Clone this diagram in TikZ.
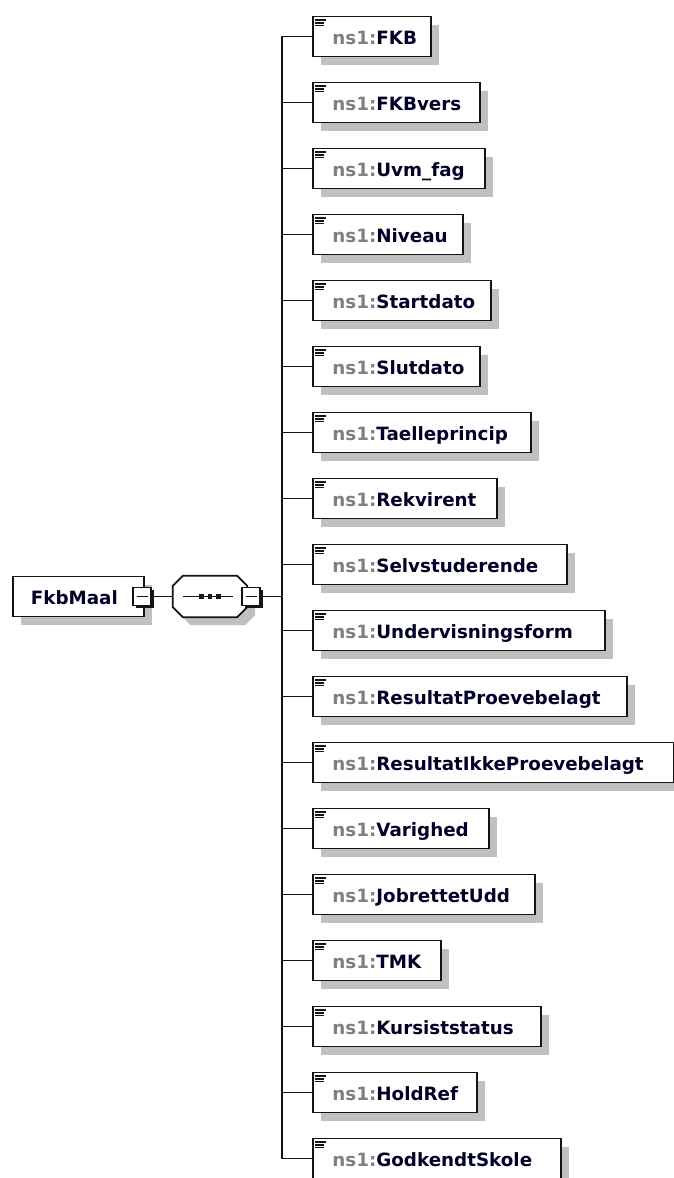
\documentclass[tikz,border=0pt]{standalone}
\usepackage{xcolor}
\usepackage{fontspec}
\usetikzlibrary{shadows}
\newfontfamily\etiqueta{DejaVu Sans}
\definecolor{Gris}{RGB}{128, 128, 128}
\definecolor{Marino}{RGB}{0, 0, 40}
\definecolor{Borde}{RGB}{20, 20, 20}
\definecolor{Sombra}{RGB}{192, 192, 192}
\tikzset{
  cable/.style={draw=Borde, line width=1.8pt},
  sombreado/.style={drop shadow={shadow xshift=8pt, shadow yshift=-8pt, fill=Sombra, opacity=1}},
  raiz/.style={draw=Borde, line width=1.8pt, fill=white, anchor=west, align=left, sombreado,
    minimum height=40pt, inner xsep=18pt, inner ysep=0pt, text height=28.3pt, text depth=11.7pt,
    text=Marino, font=\etiqueta\bfseries\fontsize{18.3}{22}\selectfont},
  elemento/.style={raiz, inner xsep=19.5pt,
    path picture={
      \draw[Borde, line width=1.4pt] ([xshift=2.5pt,yshift=-3.5pt]path picture bounding box.north west) -- +(11pt,0pt);
      \draw[Borde, line width=1.4pt] ([xshift=2.5pt,yshift=-6.3pt]path picture bounding box.north west) -- +(8.5pt,0pt);
      \draw[Borde, line width=1.4pt] ([xshift=2.5pt,yshift=-9pt]path picture bounding box.north west) -- +(8.5pt,0pt);
    }},
  secuencia/.style={minimum width=74pt, minimum height=41pt, inner sep=0pt},
  menos/.style={draw=Borde, line width=1.6pt, fill=white, minimum size=18pt, inner sep=0pt,
    drop shadow={shadow xshift=2.5pt, shadow yshift=-2.5pt, fill=Borde, opacity=1},
    path picture={
      \draw[Borde, line width=1.6pt] ([xshift=3.5pt]path picture bounding box.west) -- ([xshift=-3.5pt]path picture bounding box.east);
    }}
}

\begin{document}
\begin{tikzpicture}[x=1pt, y=-1pt]
            \useasboundingbox (0,0) rectangle (674,1178);
            %Raiz y secuencia
            \node[raiz, minimum width=131pt, text width=95pt] (A) at (12,596.5) {FkbMaal};
            \node[secuencia] (C) at (210,596.5) {};
            \path[draw=Borde, line width=1.8pt, fill=white, sombreado]
              ([xshift=10pt]C.north west) -- ([xshift=-10pt]C.north east) -- ([yshift=-10pt]C.north east)
              -- ([yshift=10pt]C.south east) -- ([xshift=-10pt]C.south east) -- ([xshift=10pt]C.south west)
              -- ([yshift=10pt]C.south west) -- ([yshift=-10pt]C.north west) -- cycle;
            \draw[Borde, line width=1.8pt] ([xshift=10pt]C.west) -- ([xshift=-14pt]C.east);
            \fill[Borde] ([xshift=-8.3pt]C.center) +(-2.4pt,-2.4pt) rectangle +(2.4pt,2.4pt);
            \fill[Borde] (C.center) +(-2.4pt,-2.4pt) rectangle +(2.4pt,2.4pt);
            \fill[Borde] ([xshift=8.3pt]C.center) +(-2.4pt,-2.4pt) rectangle +(2.4pt,2.4pt);
            \node[menos] (B) at (142,596.5) {};
            \node[menos] (D) at (251,596.5) {};
            \draw[cable] (B) -- (C);
            \coordinate (bus) at (282,596.5);
            \draw[cable] (D) -- (bus);
            %Elementos
            \node[elemento, text width=79pt] (E) at (312,36.5) {\textcolor{Gris}{ns1:}FKB};
            \node[elemento, text width=128pt] (F) at (312,102.5) {\textcolor{Gris}{ns1:}FKBvers};
            \node[elemento, text width=133pt] (G) at (312,168.5) {\textcolor{Gris}{ns1:}Uvm\_fag};
            \node[elemento, text width=111pt] (H) at (312,234.5) {\textcolor{Gris}{ns1:}Niveau};
            \node[elemento, text width=139pt] (I) at (312,300.5) {\textcolor{Gris}{ns1:}Startdato};
            \node[elemento, text width=128pt] (J) at (312,366.5) {\textcolor{Gris}{ns1:}Slutdato};
            \node[elemento, text width=179pt] (K) at (312,432.5) {\textcolor{Gris}{ns1:}Taelleprincip};
            \node[elemento, text width=145pt] (L) at (312,498.5) {\textcolor{Gris}{ns1:}Rekvirent};
            \node[elemento, text width=215pt] (M) at (312,564.5) {\textcolor{Gris}{ns1:}Selvstuderende};
            \node[elemento, text width=253pt] (N) at (312,630.5) {\textcolor{Gris}{ns1:}Undervisningsform};
            \node[elemento, text width=275pt] (O) at (312,696.5) {\textcolor{Gris}{ns1:}ResultatProevebelagt};
            \node[elemento, text width=322pt] (P) at (312,762.5) {\textcolor{Gris}{ns1:}ResultatIkkeProevebelagt};
            \node[elemento, text width=137pt] (Q) at (312,828.5) {\textcolor{Gris}{ns1:}Varighed};
            \node[elemento, text width=183pt] (R) at (312,894.5) {\textcolor{Gris}{ns1:}JobrettetUdd};
            \node[elemento, text width=89pt] (S) at (312,960.5) {\textcolor{Gris}{ns1:}TMK};
            \node[elemento, text width=189pt] (T) at (312,1026.5) {\textcolor{Gris}{ns1:}Kursiststatus};
            \node[elemento, text width=125pt] (U) at (312,1092.5) {\textcolor{Gris}{ns1:}HoldRef};
            \node[elemento, text width=209pt] (V) at (312,1158.5) {\textcolor{Gris}{ns1:}GodkendtSkole};
            \draw[cable] (bus) |- (E.west);
            \draw[cable] (bus) |- (F.west);
            \draw[cable] (bus) |- (G.west);
            \draw[cable] (bus) |- (H.west);
            \draw[cable] (bus) |- (I.west);
            \draw[cable] (bus) |- (J.west);
            \draw[cable] (bus) |- (K.west);
            \draw[cable] (bus) |- (L.west);
            \draw[cable] (bus) |- (M.west);
            \draw[cable] (bus) |- (N.west);
            \draw[cable] (bus) |- (O.west);
            \draw[cable] (bus) |- (P.west);
            \draw[cable] (bus) |- (Q.west);
            \draw[cable] (bus) |- (R.west);
            \draw[cable] (bus) |- (S.west);
            \draw[cable] (bus) |- (T.west);
            \draw[cable] (bus) |- (U.west);
            \draw[cable] (bus) |- (V.west);
\end{tikzpicture}
\end{document}
